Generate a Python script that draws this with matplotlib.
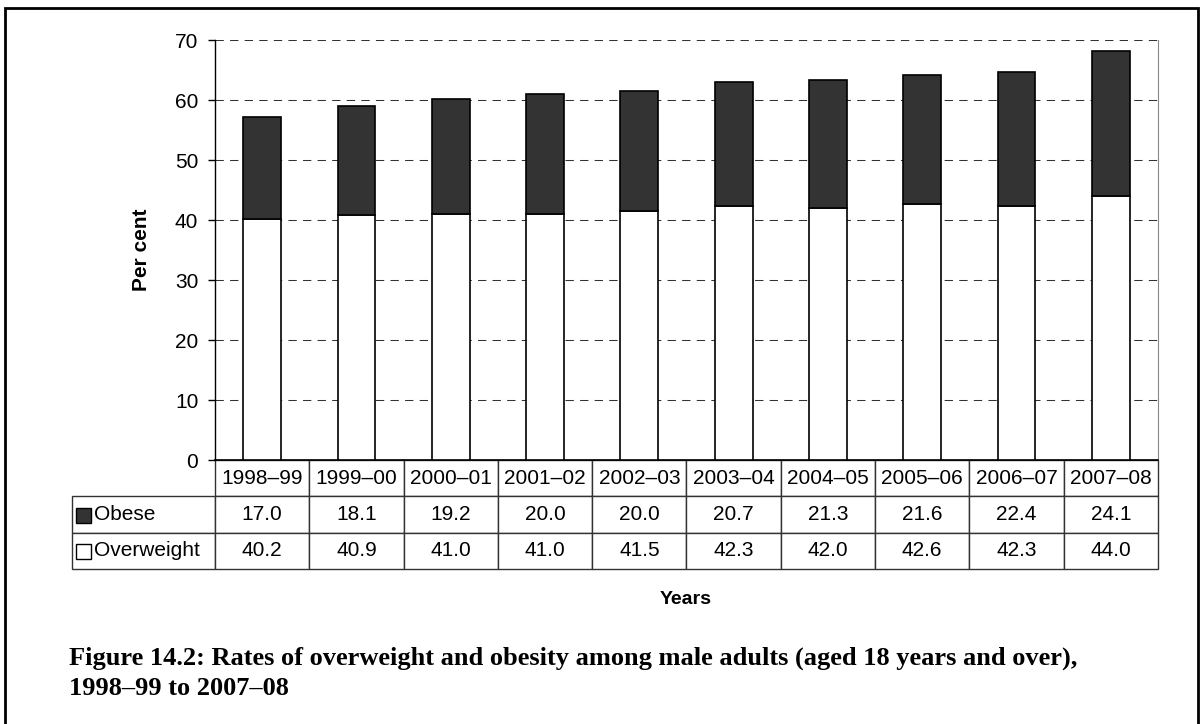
import matplotlib.pyplot as plt
import numpy as np
from matplotlib.patches import Rectangle

plt.rcParams['font.family'] = ['Liberation Sans', 'DejaVu Sans']

years = ['1998\u201399', '1999\u201300', '2000\u201301', '2001\u201302', '2002\u201303',
         '2003\u201304', '2004\u201305', '2005\u201306', '2006\u201307', '2007\u201308']
obese = [17.0, 18.1, 19.2, 20.0, 20.0, 20.7, 21.3, 21.6, 22.4, 24.1]
overweight = [40.2, 40.9, 41.0, 41.0, 41.5, 42.3, 42.0, 42.6, 42.3, 44.0]
series = ['Obese', 'Overweight']
colors = {'Obese': '#333333', 'Overweight': 'white'}

W, H = 1204, 724
fig = plt.figure(figsize=(W / 100, H / 100), dpi=100)

# outer frame
fig.patches.append(Rectangle((5 / W, -0.05), 1193 / W, 1.05 - 8 / H,
                             transform=fig.transFigure, fill=False,
                             edgecolor='black', lw=2))

ax = fig.add_axes([215 / W, 1 - 460 / H, 943 / W, 420 / H])
x = np.arange(len(years))
ax.bar(x, overweight, width=0.4, color=colors['Overweight'],
       edgecolor='black', lw=1.2, zorder=3)
ax.bar(x, obese, bottom=overweight, width=0.4, color=colors['Obese'],
       edgecolor='black', lw=1.2, zorder=3)

ax.set_xlim(-0.5, len(years) - 0.5)
ax.set_ylim(0, 70)
ax.set_yticks(range(0, 80, 10))
for y in range(10, 80, 10):
    ax.axhline(y, color='#333333', lw=0.75, linestyle=(0, (8, 6)), zorder=1)
ax.set_xticks([])
ax.tick_params(axis='y', labelsize=15, length=5, width=1, pad=7)
ax.spines['top'].set_visible(False)
ax.spines['right'].set_color('#888888')
ax.spines['left'].set_linewidth(1)
ax.spines['bottom'].set_linewidth(1.2)
ax.set_ylabel('Per cent', fontsize=15, fontweight='bold', labelpad=17)

# data table below the axes
cell_text = [[''] + years,
             ['Obese'] + ['{:.1f}'.format(v) for v in obese],
             ['Overweight'] + ['{:.1f}'.format(v) for v in overweight]]
lab_w = 143 / 943
col_w = [lab_w] + [1 / len(years)] * len(years)
tbl = ax.table(cellText=cell_text, colWidths=col_w, cellLoc='center',
               bbox=[-lab_w, -109 / 420, 1 + lab_w, 109 / 420])
tbl.auto_set_font_size(False)
tbl.set_fontsize(15)
for (r, c), cell in tbl.get_celld().items():
    cell.set_linewidth(1)
    cell.set_edgecolor('#333333')
    if r == 0 and c == 0:
        cell.visible_edges = ''
    if c == 0 and r > 0:
        cell.get_text().set_ha('left')
        cell.PAD = 22 / 143

# legend keys inside the label cells
for i, name in enumerate(series):
    yc = -(36 + 36 * i + 18) / 420 - 1 / 420
    ax.add_patch(Rectangle((-lab_w + 4 / 943, yc - 7.5 / 420), 15 / 943, 15 / 420,
                           transform=ax.transAxes, clip_on=False,
                           facecolor=colors[name], edgecolor='black', lw=1))

fig.text(686 / W, 1 - 600 / H, 'Years', fontsize=14, fontweight='bold',
         ha='center', va='center')
fig.text(69 / W, 1 - 665 / H,
         'Figure 14.2: Rates of overweight and obesity among male adults (aged 18 years and over),',
         fontsize=19, fontweight='bold', family='Liberation Serif', va='baseline')
fig.text(69 / W, 1 - 695 / H, '1998\u201399 to 2007\u201308',
         fontsize=19, fontweight='bold', family='Liberation Serif', va='baseline')

fig.savefig('out.png', dpi=100)
